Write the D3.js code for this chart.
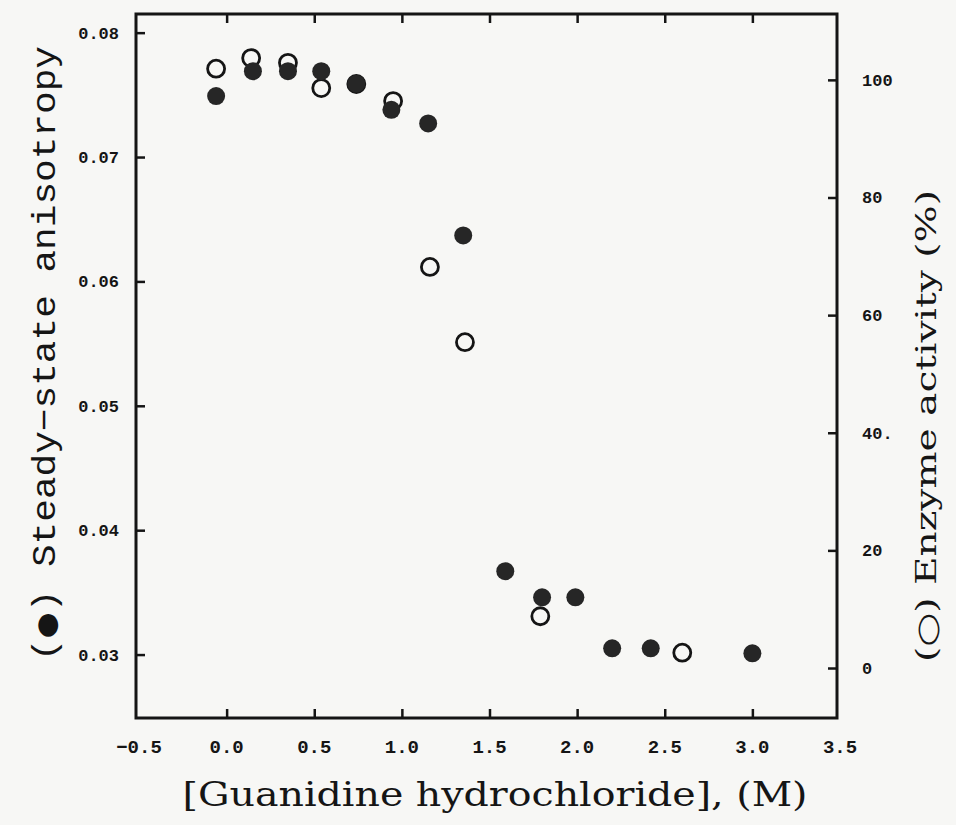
<!DOCTYPE html>
<html>
<head>
<meta charset="utf-8">
<script src="https://cdn.jsdelivr.net/npm/d3@7"></script>
<style>
  body { margin: 0; background: #f7f7f5; }
  svg { display: block; }
</style>
</head>
<body>
<svg id="chart" width="956" height="825"></svg>
<script>
// 数据：胍浓度 (M)
const anisoConc = [-0.06, 0.15, 0.35, 0.54, 0.74, 0.94, 1.15, 1.35, 1.59, 1.8, 1.99, 2.2, 2.42, 3.0];
const anisotropy = [0.0749, 0.0769, 0.0769, 0.0769, 0.0759, 0.0738, 0.0727, 0.0637, 0.0367, 0.0346, 0.0346, 0.0305, 0.0305, 0.0301];
const activityConc = [-0.06, 0.14, 0.35, 0.54, 0.74, 0.95, 1.16, 1.36, 1.79, 2.6];
const activity = [101.9, 103.7, 102.9, 98.6, 99.3, 96.4, 68.2, 55.4, 8.8, 2.6];

const xTicks = [-0.5, 0.0, 0.5, 1.0, 1.5, 2.0, 2.5, 3.0, 3.5];
const leftTicks = [0.03, 0.04, 0.05, 0.06, 0.07, 0.08];
const rightTicks = [0, 20, 40, 60, 80, 100];
const rightTickLabels = ["0", "20", "40.", "60", "80", "100"];

const svg = d3.select("#chart");
const INK = "#151515";
const PLOT_L = 136, PLOT_R = 837, PLOT_T = 14, PLOT_B = 718;

const x = d3.scaleLinear().domain([-0.5, 3.5]).range([139, 840]);
const yL = d3.scaleLinear().domain([0.0249, 0.0815]).range([PLOT_B, PLOT_T]);
const yR = d3.scaleLinear().domain([-8.5, 111.2]).range([PLOT_B, PLOT_T]);

const tickFont = "'Liberation Mono', monospace";

// 下轴 (刻度向内)
const gBottom = svg.append("g")
    .attr("transform", `translate(0,${PLOT_B})`)
    .call(d3.axisTop(x).tickValues(xTicks.slice(1, -1)).tickSize(9).tickFormat(""));
// 上轴
const gTop = svg.append("g")
    .attr("transform", `translate(0,${PLOT_T})`)
    .call(d3.axisBottom(x).tickValues(xTicks.slice(1, -1)).tickSize(9).tickFormat(""));
// 左轴
const gLeft = svg.append("g")
    .attr("transform", `translate(${PLOT_L},0)`)
    .call(d3.axisRight(yL).tickValues(leftTicks).tickSize(9).tickFormat(""));
// 右轴
const gRight = svg.append("g")
    .attr("transform", `translate(${PLOT_R},0)`)
    .call(d3.axisLeft(yR).tickValues(rightTicks).tickSize(9).tickFormat(""));

[gBottom, gTop, gLeft, gRight].forEach(g => {
    g.select(".domain").remove();
    g.selectAll(".tick line").attr("stroke", INK).attr("stroke-width", 2.5);
});

// 边框
svg.append("rect")
    .attr("x", PLOT_L).attr("y", PLOT_T)
    .attr("width", PLOT_R - PLOT_L).attr("height", PLOT_B - PLOT_T)
    .attr("fill", "none").attr("stroke", INK).attr("stroke-width", 3);

// 刻度文字
svg.append("g").selectAll("text")
    .data(xTicks).join("text")
    .attr("x", d => x(d))
    .attr("y", PLOT_B + 35)
    .attr("text-anchor", "middle")
    .attr("font-family", tickFont).attr("font-weight", "bold")
    .attr("font-size", 19).attr("fill", INK)
    .text(d => d < 0 ? "\u2212" + Math.abs(d).toFixed(1) : d.toFixed(1));

svg.append("g").selectAll("text")
    .data(leftTicks).join("text")
    .attr("x", PLOT_L - 17)
    .attr("y", d => yL(d) + 6)
    .attr("text-anchor", "end")
    .attr("font-family", tickFont).attr("font-weight", "bold")
    .attr("font-size", 17).attr("fill", INK)
    .text(d => d.toFixed(2));

svg.append("g").selectAll("text")
    .data(rightTicks).join("text")
    .attr("x", PLOT_R + 25)
    .attr("y", d => yR(d) + 6)
    .attr("text-anchor", "start")
    .attr("font-family", tickFont).attr("font-weight", "bold")
    .attr("font-size", 17).attr("fill", INK)
    .text((d, i) => rightTickLabels[i]);

// 轴标题
svg.append("text")
    .attr("x", 495).attr("y", 806)
    .attr("text-anchor", "middle")
    .attr("font-family", "'DejaVu Serif', serif")
    .attr("font-size", 33).attr("fill", INK)
    .attr("textLength", 625).attr("lengthAdjust", "spacingAndGlyphs")
    .text("[Guanidine hydrochloride], (M)");

// 左标题：符号用 DejaVu Sans 画大一点
const leftTitle = svg.append("text")
    .attr("transform", `translate(55,${(45 + 662) / 2}) rotate(-90)`)
    .attr("text-anchor", "middle")
    .attr("font-family", "'Liberation Mono', monospace")
    .attr("font-size", 33).attr("fill", INK)
    .attr("textLength", 615).attr("lengthAdjust", "spacingAndGlyphs");
leftTitle.append("tspan").text("(");
leftTitle.append("tspan").attr("font-family", "'DejaVu Sans', sans-serif").attr("font-size", 26).text("\u25CF");
leftTitle.append("tspan").text(") Steady\u2212state anisotropy");

svg.append("text")
    .attr("transform", `translate(936,${(190 + 662) / 2}) rotate(-90)`)
    .attr("text-anchor", "middle")
    .attr("font-family", "'DejaVu Serif', serif")
    .attr("font-size", 27).attr("fill", INK)
    .attr("textLength", 472).attr("lengthAdjust", "spacingAndGlyphs")
    .text("(\u25CB) Enzyme activity (%)");

// 酶活性 (空心圆)
svg.append("g").selectAll("circle")
    .data(activityConc).join("circle")
    .attr("cx", d => x(d))
    .attr("cy", (d, i) => yR(activity[i]))
    .attr("r", 8.5)
    .attr("fill", "none")
    .attr("stroke", INK).attr("stroke-width", 2.8);

// 稳态各向异性 (实心圆)
svg.append("g").selectAll("circle")
    .data(anisoConc).join("circle")
    .attr("cx", d => x(d))
    .attr("cy", (d, i) => yL(anisotropy[i]))
    .attr("r", 9)
    .attr("fill", "#262626");
</script>
</body>
</html>
